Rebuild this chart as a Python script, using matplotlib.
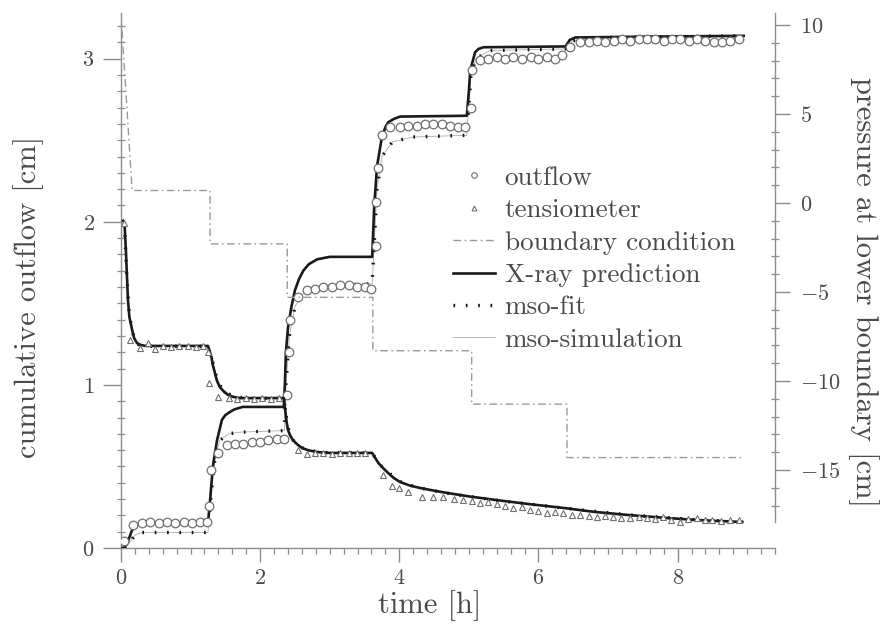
import numpy as np
import matplotlib
matplotlib.use("Agg")
import matplotlib.pyplot as plt
from matplotlib.ticker import MultipleLocator
from matplotlib.lines import Line2D

plt.rcParams['font.family'] = 'serif'
plt.rcParams['font.serif'] = ['cmr10']
plt.rcParams['mathtext.fontset'] = 'cm'
plt.rcParams['axes.formatter.use_mathtext'] = True

TXT = '#4a4a4a'
AX = '#8c8c8c'

# ---- data ----
# boundary condition, pressure at lower boundary [cm] (right axis)
bc_t = [0.0, 0.16, 1.28, 1.28, 2.39, 2.39, 3.62, 3.62, 5.04, 5.04, 6.41, 6.41, 8.92]
bc_p = [10.6, 0.7, 0.7, -2.3, -2.3, -5.3, -5.3, -8.3, -8.3, -11.3, -11.3, -14.3, -14.3]

# cumulative outflow [cm] (left axis)
out_t = [0.05, 0.17, 0.30, 0.42, 0.54, 0.66, 0.78, 0.90, 1.02, 1.14, 1.24,
         1.27, 1.29, 1.40, 1.52, 1.64, 1.76, 1.88, 2.00, 2.12, 2.24, 2.34,
         2.38, 2.41, 2.43, 2.54, 2.67, 2.79, 2.91, 3.03, 3.15, 3.27, 3.39, 3.51, 3.60,
         3.66, 3.67, 3.69, 3.75, 3.87, 4.01, 4.13, 4.26, 4.37, 4.49, 4.62, 4.73, 4.85, 4.95,
         5.03, 5.05, 5.16, 5.28, 5.41, 5.52, 5.64, 5.77, 5.89, 6.00, 6.13, 6.24, 6.34,
         6.45, 6.60, 6.72, 6.84, 6.96, 7.08, 7.20, 7.32, 7.44, 7.56, 7.68, 7.80, 7.92,
         8.04, 8.16, 8.28, 8.40, 8.52, 8.64, 8.76, 8.88]
out_v = [0.04, 0.14, 0.155, 0.16, 0.155, 0.16, 0.155, 0.16, 0.155, 0.16, 0.16,
         0.26, 0.48, 0.58, 0.63, 0.64, 0.64, 0.65, 0.65, 0.66, 0.67, 0.67,
         0.94, 1.20, 1.40, 1.54, 1.58, 1.59, 1.60, 1.60, 1.61, 1.61, 1.60, 1.60, 1.59,
         1.85, 2.12, 2.33, 2.53, 2.58, 2.58, 2.59, 2.59, 2.60, 2.60, 2.60, 2.59, 2.58, 2.58,
         2.70, 2.93, 2.99, 3.00, 3.01, 3.00, 3.01, 3.00, 3.01, 3.00, 3.01, 3.00, 3.02,
         3.07, 3.10, 3.10, 3.11, 3.10, 3.11, 3.12, 3.11, 3.12, 3.12, 3.12, 3.11, 3.12,
         3.12, 3.11, 3.12, 3.11, 3.10, 3.10, 3.11, 3.12]

xray_out_t = [0.0, 0.05, 0.10, 0.15, 0.20, 0.30, 1.25, 1.28, 1.32, 1.38, 1.45, 1.50, 1.57, 1.63, 1.75,
              2.34, 2.355, 2.37, 2.40, 2.45, 2.50, 2.56, 2.62, 2.70, 2.82, 3.00, 3.61, 3.64, 3.68,
              3.75, 3.80, 3.84, 3.92, 4.01, 4.97, 5.00, 5.02, 5.09, 5.14, 5.21, 6.39, 6.45, 6.53, 7.5, 8.95]
xray_out_v = [0.0, 0.0, 0.04, 0.10, 0.14, 0.153, 0.153, 0.29, 0.50, 0.66, 0.785, 0.815, 0.835, 0.85, 0.865,
              0.865, 1.00, 1.20, 1.35, 1.48, 1.58, 1.65, 1.70, 1.74, 1.77, 1.785, 1.785, 2.10, 2.34,
              2.52, 2.58, 2.61, 2.63, 2.645, 2.65, 2.80, 2.93, 3.04, 3.06, 3.07, 3.075, 3.115, 3.13, 3.135, 3.14]

fit_out_t = [0.05, 0.12, 0.20, 0.30, 1.25, 1.30, 1.35, 1.42, 1.55, 1.70, 2.35, 2.37, 2.42,
             2.50, 2.65, 3.00, 3.61, 3.68, 3.75, 3.90, 4.20, 4.97, 5.03, 5.10, 5.30, 6.39,
             6.50, 7.00, 8.95]
fit_out_v = [0.0, 0.03, 0.08, 0.095, 0.095, 0.35, 0.55, 0.66, 0.70, 0.71, 0.72, 1.00, 1.30,
             1.48, 1.58, 1.61, 1.62, 2.20, 2.40, 2.49, 2.52, 2.53, 2.90, 3.00, 3.05, 3.06,
             3.11, 3.13, 3.14]

# tensiometer, pressure [cm] (right axis)
ten_t = [0.05, 0.13, 0.27, 0.39, 0.49, 0.60, 0.72, 0.84, 0.96, 1.08, 1.18,
         1.25, 1.27, 1.40, 1.55, 1.67, 1.79, 1.91, 2.03, 2.15, 2.27,
         2.55, 2.67, 2.79, 2.91, 3.03, 3.15, 3.27, 3.39, 3.51,
         3.77, 3.89, 4.00, 4.13, 4.33, 4.48, 4.63, 4.78, 4.92, 5.04, 5.16, 5.28, 5.40,
         5.52, 5.64, 5.76, 5.88, 6.00, 6.12, 6.24, 6.36, 6.48, 6.60, 6.72, 6.84, 6.96,
         7.07, 7.19, 7.31, 7.44, 7.56, 7.68, 7.79, 7.91, 8.03, 8.15, 8.28, 8.40, 8.50,
         8.62, 8.75, 8.88]
ten_p = [-1.12, -7.70, -8.15, -7.87, -8.20, -8.05, -8.10, -8.05, -8.05, -8.08, -8.05,
         -8.37, -10.11, -10.90, -10.96, -10.99, -10.93, -11.02, -10.96, -10.99, -10.93,
         -13.88, -14.10, -14.07, -14.04, -14.10, -14.04, -14.07, -14.04, -14.07,
         -15.28, -15.90, -16.01, -16.24, -16.52, -16.52, -16.52, -16.60, -16.69, -16.75, -16.85, -16.80, -16.91,
         -17.00, -17.13, -17.10, -17.25, -17.30, -17.42, -17.35, -17.42, -17.50, -17.53, -17.58, -17.64, -17.60,
         -17.64, -17.68, -17.70, -17.66, -17.70, -17.75, -17.64, -17.78, -17.92, -17.75, -17.70, -17.80, -17.81,
         -17.85, -17.81, -17.83]

xray_ten_t = [0.03, 0.05, 0.07, 0.10, 0.12, 0.16, 0.19, 0.23, 0.28, 0.35, 1.25, 1.30, 1.32, 1.35, 1.38,
              1.42, 1.48, 1.54, 1.62, 1.71, 2.34, 2.36, 2.38, 2.40, 2.43, 2.47, 2.53, 2.60, 2.70, 2.82,
              3.00, 3.61, 3.65, 3.70, 3.77, 3.84, 3.92, 4.01, 4.15, 4.30, 4.50, 4.69, 5.00, 5.40,
              5.90, 6.36, 6.80, 7.30, 7.80, 8.28, 8.93]
xray_ten_p = [-1.0, -1.12, -2.64, -5.45, -6.40, -7.13, -7.60, -7.87, -7.97, -8.03, -8.03, -8.65, -9.10, -9.55, -10.0,
              -10.34, -10.60, -10.79, -10.90, -10.96, -10.96, -11.63, -12.30, -12.75, -13.05, -13.31, -13.55, -13.76, -13.90, -13.99,
              -14.04, -14.04, -14.30, -14.61, -14.90, -15.17, -15.45, -15.67, -15.87, -16.01, -16.16, -16.29, -16.48, -16.69,
              -16.93, -17.13, -17.35, -17.53, -17.68, -17.81, -17.92]

fit_ten_t = [0.05, 0.08, 0.12, 0.18, 0.25, 0.40, 1.25, 1.31, 1.37, 1.45, 1.60, 1.80, 2.34,
             2.37, 2.42, 2.50, 2.65, 2.90, 3.61, 3.72, 3.88, 4.05, 4.40, 4.80, 5.50, 6.40,
             7.30, 8.30, 8.93]
fit_ten_p = [-1.12, -3.9, -6.3, -7.5, -7.95, -8.05, -8.05, -8.80, -9.75, -10.45, -10.85, -10.97, -10.97,
             -11.9, -12.95, -13.50, -13.85, -14.02, -14.05, -14.70, -15.25, -15.75, -16.10, -16.38, -16.75, -17.15,
             -17.52, -17.80, -17.90]

fig = plt.figure(figsize=(8.82, 6.26), dpi=100)
ax = fig.add_axes([121 / 882, 78 / 626, 654 / 882, 535 / 626])
ax2 = ax.twinx()

DOTS = (0, (0.5, 3.2))

# left axis: outflow
ax.plot(fit_out_t, fit_out_v, color='#aaaaaa', lw=0.6, zorder=2)
ax.plot(fit_out_t, fit_out_v, color='#111111', lw=2.4, ls=DOTS, zorder=3)
ax.plot(xray_out_t, xray_out_v, color='#1a1a1a', lw=1.9, zorder=4)
ax.plot(out_t, out_v, ls='none', marker='o', ms=6.2, mfc='white', mec='#707070', mew=0.9, zorder=5)

# right axis: boundary condition and tensiometer
ax2.plot(bc_t, bc_p, color='#9a9a9a', lw=1.0, ls=(0, (5.5, 2.5, 1.2, 2.5)), zorder=2)
ax2.plot(fit_ten_t, fit_ten_p, color='#aaaaaa', lw=0.6, zorder=2)
ax2.plot(fit_ten_t, fit_ten_p, color='#111111', lw=2.4, ls=DOTS, zorder=3)
ax2.plot(xray_ten_t, xray_ten_p, color='#1a1a1a', lw=1.9, zorder=4)
ax2.plot(ten_t, ten_p, ls='none', marker='^', ms=4.2, mfc='white', mec='#707070', mew=0.8, zorder=5)

ax.set_xlim(0, 9.4)
ax.set_ylim(0, 3.28)
ax2.set_ylim(-19.38, 10.67)

for a in (ax, ax2):
    a.spines['top'].set_visible(False)
    a.patch.set_visible(False)
ax.spines['right'].set_visible(False)
ax2.spines['left'].set_visible(False)
ax2.spines['bottom'].set_visible(False)
for s in ('left', 'bottom'):
    ax.spines[s].set_color(AX)
    ax.spines[s].set_linewidth(1.0)
ax2.spines['right'].set_color(AX)
ax2.spines['right'].set_linewidth(1.0)
ax2.spines['right'].set_bounds(-17.9, 10.67)

ax.xaxis.set_major_locator(MultipleLocator(2))
ax.xaxis.set_minor_locator(MultipleLocator(0.2))
ax.yaxis.set_major_locator(MultipleLocator(1))
ax.yaxis.set_minor_locator(MultipleLocator(0.1))
ax2.set_yticks([-15, -10, -5, 0, 5, 10])
ax2.set_yticks(np.arange(-17, 11, 1), minor=True)

ax.tick_params(axis='x', which='major', direction='out', length=10, width=1.0, color=AX,
               labelsize=16, labelcolor=TXT, pad=5)
ax.tick_params(axis='x', which='minor', direction='out', length=4.5, width=0.9, color=AX)
ax.tick_params(axis='y', which='major', direction='out', length=13, width=1.0, color=AX,
               labelsize=16, labelcolor=TXT, pad=6)
ax.tick_params(axis='y', which='minor', direction='inout', length=6, width=0.9, color=AX)
ax2.tick_params(axis='y', which='major', direction='out', length=11, width=1.0, color=AX,
                labelsize=16, labelcolor=TXT, pad=7)
ax2.tick_params(axis='y', which='minor', direction='inout', length=6, width=0.9, color=AX)

ax.set_xlabel('time [h]', fontsize=22, color=TXT, va='center')
ax.xaxis.set_label_coords(0.472, -0.107)
ax.set_ylabel('cumulative outflow [cm]', fontsize=22, color=TXT, va='center')
ax.yaxis.set_label_coords(-0.142, 0.469)
ax2.set_ylabel('pressure at lower boundary [cm]', fontsize=22, color=TXT, va='center', rotation=270)
ax2.yaxis.set_label_coords(1.135, 0.478)

# legend
handles = [
    Line2D([], [], ls='none', marker='o', ms=4, mfc='white', mec='#707070', mew=0.8),
    Line2D([], [], ls='none', marker='^', ms=3.5, mfc='white', mec='#707070', mew=0.8),
    Line2D([], [], color='#9a9a9a', lw=1.0, ls=(0, (5.5, 2.5, 1.2, 2.5))),
    Line2D([], [], color='#1a1a1a', lw=1.9),
    Line2D([], [], color='#111111', lw=2.4, ls=DOTS),
    Line2D([], [], color='#aaaaaa', lw=0.6),
]
labels = ['outflow', 'tensiometer', 'boundary condition', 'X-ray prediction', 'mso-fit', 'mso-simulation']
leg = ax2.legend(handles, labels, loc='upper left', bbox_to_anchor=(0.508, 0.714), frameon=False,
                 fontsize=19.5, handlelength=1.55, handletextpad=0.35, labelspacing=0.31,
                 borderpad=0, borderaxespad=0)
for t in leg.get_texts():
    t.set_color(TXT)

fig.savefig('out.png', dpi=100)
